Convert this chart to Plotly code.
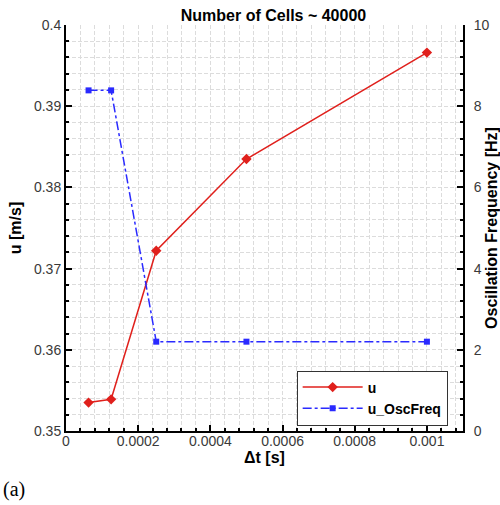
import plotly.graph_objects as go

# Time step sizes [s]
dt = [0.0000625, 0.000125, 0.00025, 0.0005, 0.001]
# Mean velocity u [m/s]
u_vals = [0.3535, 0.3539, 0.3722, 0.3835, 0.3966]
# Oscillation frequency [Hz]
freq_vals = [8.39, 8.39, 2.2, 2.2, 2.2]

x_ticks = [0, 0.0002, 0.0004, 0.0006, 0.0008, 0.001]
x_tick_text = ["0", "0.0002", "0.0004", "0.0006", "0.0008", "0.001"]
y_ticks = [0.35, 0.36, 0.37, 0.38, 0.39, 0.4]
y_tick_text = ["0.35", "0.36", "0.37", "0.38", "0.39", "0.4"]
y2_ticks = [0, 2, 4, 6, 8, 10]

RED = "#e0201c"
BLUE = "#2a2aff"
GRID = "#dcdcdc"
GRID_DASH = "4px,2px"
FONT = "Liberation Sans, Arial, sans-serif"
TICK_FONT = dict(family=FONT, size=14, color="#3a3a3a")
TITLE_FONT = dict(family=FONT, size=16, color="black")

fig = go.Figure()
fig.add_trace(go.Scatter(
    x=dt, y=u_vals, name="<b>u</b>", mode="lines+markers",
    line=dict(color=RED, width=1.5),
    marker=dict(symbol="diamond", size=8, color=RED),
))
fig.add_trace(go.Scatter(
    x=dt, y=freq_vals, name="<b>u_OscFreq</b>", mode="lines+markers", yaxis="y2",
    line=dict(color=BLUE, width=1.5, dash="dashdot"),
    marker=dict(symbol="square", size=6, color=BLUE),
))

axis_common = dict(
    showline=True, linecolor="black", linewidth=2,
    ticks="inside", ticklen=6, tickwidth=1.5, tickcolor="black",
    tickfont=TICK_FONT,
    zeroline=False,
    automargin=False,
)

fig.update_layout(
    width=500, height=505,
    margin=dict(l=66, r=37, t=25, b=74),
    paper_bgcolor="white", plot_bgcolor="white",
    showlegend=True,
    title=dict(
        text="<b>Number of Cells ~ 40000</b>",
        x=0.547, xanchor="center", y=0.97, yanchor="middle",
        font=dict(family=FONT, size=16, color="black"),
    ),
    xaxis=dict(
        **axis_common,
        range=[0, 0.0011],
        tickvals=x_ticks, ticktext=x_tick_text,
        ticklabelstandoff=-4,
        showgrid=True, gridcolor=GRID, griddash=GRID_DASH, gridwidth=1,
        minor=dict(dtick=0.00004, tick0=0, ticks="inside", ticklen=3,
                   tickcolor="black", showgrid=True, gridcolor=GRID,
                   griddash=GRID_DASH),
        title=dict(text="<b>Δt [s]</b>", standoff=2, font=TITLE_FONT),
    ),
    yaxis=dict(
        **axis_common,
        range=[0.35, 0.4],
        tickvals=y_ticks, ticktext=y_tick_text,
        showgrid=True, gridcolor=GRID, griddash=GRID_DASH, gridwidth=1,
        minor=dict(dtick=0.002, tick0=0.35, ticks="inside", ticklen=3,
                   tickcolor="black", showgrid=True, gridcolor=GRID,
                   griddash=GRID_DASH),
        title=dict(text="<b>u [m/s]</b>", standoff=8, font=TITLE_FONT),
    ),
    yaxis2=dict(
        **axis_common,
        overlaying="y", side="right",
        range=[0, 10],
        tickvals=y2_ticks,
        ticklabelstandoff=6,
        showgrid=False,
        minor=dict(dtick=0.4, tick0=0, ticks="inside", ticklen=3,
                   tickcolor="black", showgrid=False),
        title=dict(text="<b>Oscillation Frequency [Hz]</b>", standoff=4,
                   font=TITLE_FONT),
    ),
    legend=dict(
        x=0.581, y=0.149, xanchor="left", yanchor="top",
        bgcolor="white", bordercolor="#333333", borderwidth=1,
        font=dict(family=FONT, size=14, color="black"),
        tracegroupgap=0, itemwidth=60,
    ),
)

fig.add_annotation(
    text="(a)", xref="paper", yref="paper",
    x=-0.163, y=-0.143, xanchor="left", yanchor="middle",
    showarrow=False,
    font=dict(family="Liberation Serif, Times New Roman, serif", size=20, color="black"),
)

fig.write_html("out.html")
